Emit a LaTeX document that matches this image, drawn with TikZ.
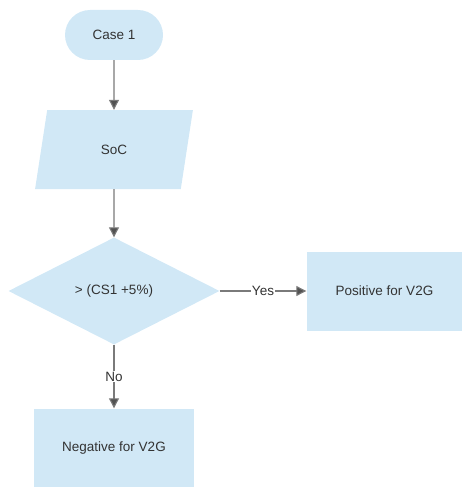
\documentclass[tikz,border=0pt]{standalone}
\usepackage{fontspec}
\setmainfont{Liberation Sans}
\usetikzlibrary{shapes.geometric, arrows.meta}

\definecolor{boxfill}{HTML}{D1E8F6}
\definecolor{linegray}{HTML}{7A7A7A}
\definecolor{textgray}{HTML}{333333}

\tikzset{
  every node/.style={text=textgray, font=\fontsize{13.5}{16}\selectfont},
  terminal/.style={fill=boxfill, rounded corners=25pt, minimum width=98pt, minimum height=50pt},
  inputbox/.style={trapezium, fill=boxfill, trapezium left angle=76, trapezium right angle=104,
    trapezium stretches=true, minimum width=158pt, minimum height=79pt, inner sep=0pt},
  decision/.style={diamond, fill=boxfill, minimum width=211pt, minimum height=107pt, inner sep=0pt},
  resultbox/.style={rectangle, fill=boxfill, minimum width=156pt, minimum height=79pt},
  flow/.style={draw=linegray, line width=1.1pt, -{Triangle[length=10pt, width=10pt, fill=textgray!85]}},
  tag/.style={fill=white, inner sep=1pt}
}

\begin{document}
\begin{tikzpicture}[x=1pt, y=-1pt]

\useasboundingbox (0,0) rectangle (462,487);

% shapes
\node[terminal] (case) at (114,35) {Case 1};
\node[inputbox] (soc) at (114,149.5) {SoC};
\node[decision] (test) at (114,291) {> (CS1 +5\%)};
\node[resultbox] (pos) at (384.5,291) {Positive for V2G};
\node[resultbox, minimum width=160pt] (neg) at (114,448) {Negative for V2G};

% connectors
\draw[flow] (case) -- (soc);
\draw[flow] (soc) -- (test);
\draw[flow] (test) -- node[tag] {Yes} (pos);
\draw[flow] (test) -- node[tag, pos=0.5] {No} (neg);

\end{tikzpicture}
\end{document}
